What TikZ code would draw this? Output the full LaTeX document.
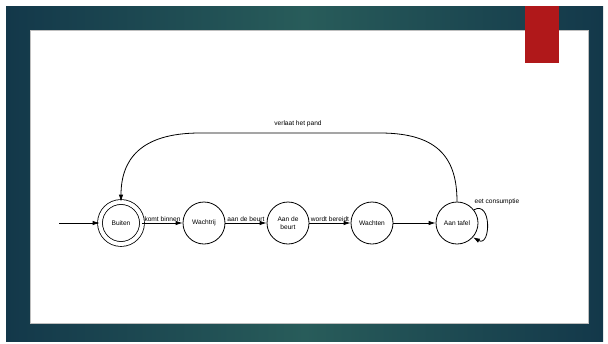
\documentclass[tikz,border=0pt]{standalone}
\usepackage{fontspec}
\setmainfont{Liberation Sans}
\usetikzlibrary{arrows.meta}

\definecolor{frameedge}{RGB}{19,56,74}
\definecolor{framemid}{RGB}{40,92,90}
\definecolor{barred}{RGB}{176,24,26}

\tikzset{
  state/.style={circle, draw=black, line width=0.8pt, minimum size=42pt,
    inner sep=0pt, align=center, font=\fontsize{6.6}{7.4}\selectfont},
  accept/.style={state, double=white, double distance=4pt},
  trans/.style={draw=black, line width=0.8pt, -{Latex[length=7pt,width=4.5pt]}},
  tlabel/.style={font=\fontsize{6.6}{7.4}\selectfont, inner sep=1pt},
}

\begin{document}
\begin{tikzpicture}[x=1pt, y=-1pt]
  \useasboundingbox (0,0) rectangle (608,343);

  % slide backdrop
  \fill[white] (0,0) rectangle (608,343);
  \shade[left color=frameedge, right color=frameedge, middle color=framemid]
    (6,6) rectangle (603,341);
  \fill[white, draw=gray!50, line width=0.6pt] (30,30) rectangle (588,323);
  \fill[barred] (525,6) rectangle (559,63);

  % states
  \node[accept] (buiten) at (121,223) {Buiten};
  \node[state] (wachtrij) at (204,223) {Wachtrij};
  \node[state] (beurt) at (288,223) {Aan de\\beurt};
  \node[state] (wachten) at (372,223) {Wachten};
  \node[state] (tafel) at (457,223) {Aan tafel};
  \coordinate (start) at (59,223);

  % transitions
  \draw[trans] (start) -- (buiten);
  \draw[trans] (buiten) -- node[tlabel, above] {komt binnen} (wachtrij);
  \draw[trans] (wachtrij) -- node[tlabel, above] {aan de beurt} (beurt);
  \draw[trans] (beurt) -- node[tlabel, above] {wordt bereidt} (wachten);
  \draw[trans] (wachten) -- (tafel);

  % self loop on the table state
  \draw[trans] (tafel.38) .. controls +(18,-10) and +(18,10) .. (tafel.-42);
  \node[tlabel] at (497,202) {eet consumptie};

  % leaving the premises
  \draw[trans]
    (tafel.north) .. controls (457,160) and (440,133) .. (380,133)
    -- (200,133) .. controls (140,133) and (121,160) .. (buiten.north);
  \node[tlabel] at (298,124) {verlaat het pand};
\end{tikzpicture}
\end{document}
